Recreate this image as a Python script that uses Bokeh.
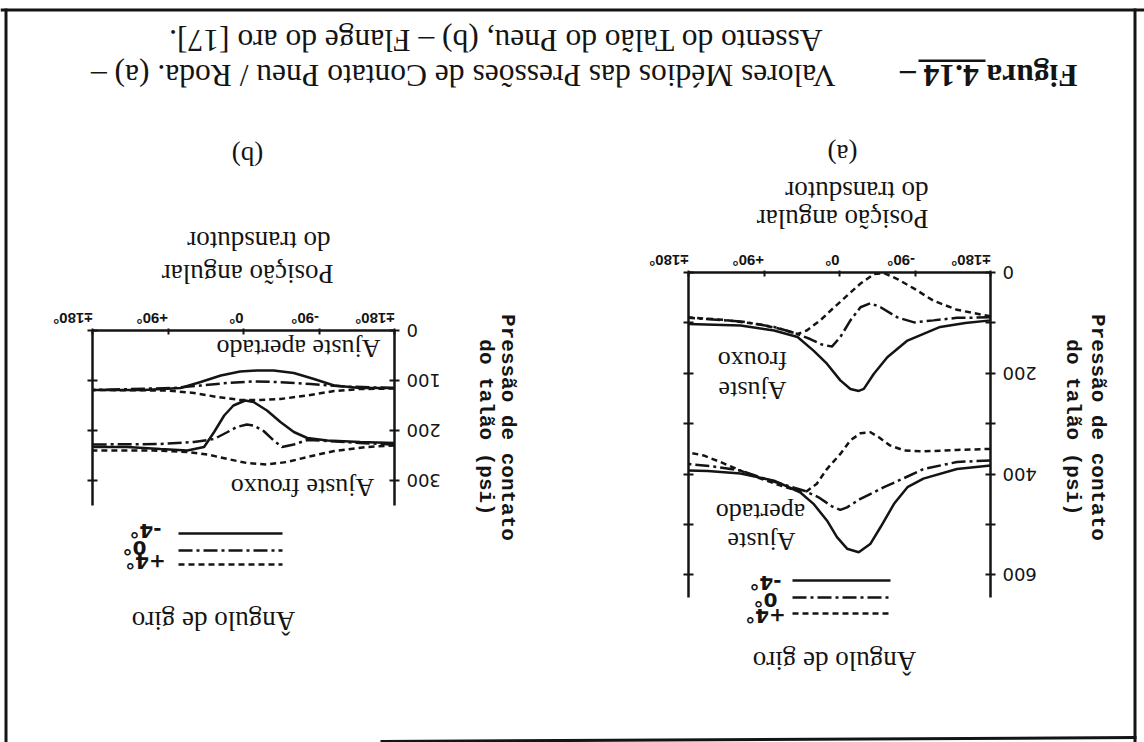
import math

from bokeh.embed import file_html
from bokeh.models import BoxAnnotation, FixedTicker, Label, LinearAxis, Range1d
from bokeh.plotting import figure
from bokeh.resources import INLINE

INK = "#141414"
SERIF = "Liberation Serif"
XTICK_FONT = "Liberation Sans"
SANS = "DejaVu Sans"
AXIS_TITLE_FONT = "Liberation Mono"
UPSIDE_DOWN = math.pi

# ---------------------------------------------------------------- ticks
X_TICKS = [-180, -90, 0, 90, 180]
X_TICK_LABELS = ["±180°", "-90°", "0°", "+90°", "±180°"]
A_Y_TICKS = [0, 100, 200, 300, 400, 500, 600]
A_Y_TICK_LABELS = ["0", "", "200", "", "400", "", "600"]
B_Y_TICKS = [0, 100, 200, 300]
B_Y_TICK_LABELS = ["0", "100", "200", "300"]

# ------------------------------------------------ steering angle series
STEER_LABELS = ["-4°", "0°", "+4°"]
STEER_DASH = ["solid", "14 4 3 4", "6 4"]

# (a) wheel seat, loose fit
A_LOOSE_M4_DEG = [-180, -150, -120, -81, -57, -41, -29, -23, -13, -1, 15, 31, 50, 78, 118, 180]
A_LOOSE_M4_PSI = [95, 100, 108, 135, 168, 201, 231, 235, 231, 214, 181, 155, 128, 115, 105, 102]
A_LOOSE_0_DEG = [-180, -140, -112, -89, -69, -49, -37, -25, -13, -1, 9, 21, 35, 50, 78, 118, 180]
A_LOOSE_0_PSI = [89, 90, 95, 99, 89, 69, 61, 69, 95, 128, 147, 143, 132, 122, 108, 97, 90]
A_LOOSE_P4_DEG = [-180, -140, -112, -89, -69, -53, -41, -25, -9, 7, 23, 39, 50, 70, 98, 138, 180]
A_LOOSE_P4_PSI = [87, 74, 56, 32, 13, 1, 3, 22, 46, 70, 95, 115, 122, 112, 102, 94, 89]

# (a) wheel seat, tight fit
A_TIGHT_M4_DEG = [-180, -140, -100, -81, -65, -49, -37, -23, -9, 3, 15, 31, 47, 78, 118, 157, 180]
A_TIGHT_M4_PSI = [383, 390, 409, 426, 459, 505, 538, 555, 548, 525, 492, 459, 436, 413, 399, 394, 393]
A_TIGHT_0_DEG = [-180, -140, -100, -73, -53, -41, -25, -9, -1, 9, 25, 42, 62, 86, 118, 150, 180]
A_TIGHT_0_PSI = [373, 376, 390, 411, 426, 436, 449, 466, 471, 464, 446, 433, 423, 411, 393, 385, 380]
A_TIGHT_P4_DEG = [-180, -140, -100, -77, -60, -47, -37, -25, -13, -1, 15, 27, 39, 50, 70, 94, 118, 142, 162, 180]
A_TIGHT_P4_PSI = [350, 352, 355, 353, 343, 327, 317, 319, 333, 360, 390, 419, 434, 433, 423, 409, 393, 376, 363, 357]

# (b) rim flange, tight fit
B_TIGHT_M4_DEG = [-180, -139, -108, -84, -60, -36, -16, 4, 27, 51, 75, 119, 180]
B_TIGHT_M4_PSI = [115, 115, 110, 97, 85, 80, 80, 82, 90, 103, 115, 119, 119]
B_TIGHT_0_DEG = [-180, -120, -80, -40, -12, 19, 51, 83, 180]
B_TIGHT_0_PSI = [115, 112, 107, 103, 102, 105, 110, 115, 119]
B_TIGHT_P4_DEG = [-180, -139, -108, -76, -44, -20, 4, 31, 59, 91, 180]
B_TIGHT_P4_PSI = [116, 117, 121, 130, 137, 139, 139, 133, 125, 120, 119]

# (b) rim flange, loose fit
B_LOOSE_M4_DEG = [-180, -139, -100, -76, -60, -44, -28, -12, -2, 12, 23, 35, 47, 67, 99, 139, 180]
B_LOOSE_M4_PSI = [225, 223, 220, 215, 203, 183, 160, 143, 140, 150, 170, 203, 233, 240, 237, 233, 233]
B_LOOSE_0_DEG = [-180, -139, -100, -76, -60, -46, -36, -24, -12, -4, 8, 19, 35, 59, 99, 180]
B_LOOSE_0_PSI = [228, 225, 221, 219, 228, 233, 220, 201, 190, 188, 193, 203, 217, 223, 227, 228]
B_LOOSE_P4_DEG = [-180, -147, -108, -76, -52, -28, -4, 19, 43, 67, 107, 180]
B_LOOSE_P4_PSI = [230, 233, 241, 253, 263, 268, 265, 257, 248, 243, 240, 240]

# ---------------------------------------------------------------- sheet
# The default ranges are sheet pixels (y grows downward); each chart gets
# its own named degree / psi ranges, so the whole printed sheet -- shown
# upside down -- lives in one canvas.
PAGE_W, PAGE_H = 1144, 742
FRAME_W = 302

p = figure(width=PAGE_W, height=PAGE_H,
           x_range=Range1d(0, PAGE_W), y_range=Range1d(PAGE_H, 0),
           x_axis_location=None, y_axis_location=None, min_border=0,
           output_backend="svg", toolbar_location=None)
p.outline_line_color = None
p.grid.visible = False
p.background_fill_color = "white"
p.border_fill_color = "white"


def add_chart(name, frame_left, frame_top, px_per_psi, y_ticks, y_tick_labels, y_axis_max):
    def to_deg(px):
        return 180 - (px - frame_left) * 360 / FRAME_W

    def to_psi(py):
        return (py - frame_top) / px_per_psi

    xr, yr = f"deg_{name}", f"psi_{name}"
    p.extra_x_ranges[xr] = Range1d(to_deg(0), to_deg(PAGE_W))
    p.extra_y_ranges[yr] = Range1d(to_psi(PAGE_H), to_psi(0))

    # angular position axis along the top edge
    xa = LinearAxis(x_range_name=xr, y_range_name=yr, fixed_location=0,
                    ticker=FixedTicker(ticks=X_TICKS), bounds=(-180, 180),
                    major_label_overrides=dict(zip(X_TICKS, X_TICK_LABELS)),
                    major_label_orientation=UPSIDE_DOWN,
                    major_label_text_font=XTICK_FONT,
                    major_label_text_font_style="bold",
                    major_label_text_font_size="15px",
                    major_label_standoff=10, major_tick_in=4, major_tick_out=2)
    p.add_layout(xa, "above")

    # pressure axis (printed edge with the numbers)
    ya = LinearAxis(x_range_name=xr, y_range_name=yr, fixed_location=-180,
                    ticker=FixedTicker(ticks=y_ticks), bounds=(0, y_axis_max),
                    major_label_overrides=dict(zip(y_ticks, y_tick_labels)),
                    major_label_orientation=UPSIDE_DOWN,
                    major_label_text_font=SANS,
                    major_label_text_font_size="18px",
                    major_label_standoff=-17, major_tick_in=5, major_tick_out=5)
    p.add_layout(ya, "left")

    # opposite edge: ticks only
    la = LinearAxis(x_range_name=xr, y_range_name=yr, fixed_location=180,
                    ticker=FixedTicker(ticks=y_ticks), bounds=(0, y_axis_max),
                    major_label_overrides={t: "" for t in y_ticks},
                    major_tick_in=5, major_tick_out=5)
    p.add_layout(la, "right")

    for ax in (xa, ya, la):
        ax.axis_line_color = INK
        ax.axis_line_width = 2.5
        ax.major_tick_line_color = INK
        ax.major_tick_line_width = 2
        ax.minor_tick_line_color = None
        ax.major_label_text_color = INK
    return xr, yr


def text(xy, s, size, font=SERIF, style="normal", align="center", angle=UPSIDE_DOWN):
    p.add_layout(Label(x=xy[0], y=xy[1], text=s, angle=angle,
                       text_align=align, text_baseline="middle",
                       text_font=font, text_font_size=f"{size}px",
                       text_font_style=style, text_color=INK))


def rule(left, top, right, bottom):
    p.add_layout(BoxAnnotation(left=left, right=right, top=top, bottom=bottom,
                               fill_color=INK, fill_alpha=1, line_color=None))


def legend(x0, x1, ys, label_x, label_dy):
    for lab, dash, y, lx in zip(STEER_LABELS, STEER_DASH, ys, label_x):
        p.line([x0, x1], [y, y], line_color=INK, line_width=2.5, line_dash=dash)
        text((lx, y + label_dy), lab, 20, font=SANS, style="bold")


# ---------------------------------------------------------------- frame
rule(0, 8, PAGE_W, 11)
rule(4, 8, 7, PAGE_H)
rule(1133, 8, 1136, PAGE_H)
p.line([380, 1136], [741, 737], line_color=INK, line_width=3)

# ---------------------------------------------------------------- caption
text((1077, 75), "Figura 4.14 –", 31.5, style="bold", align="left")
rule(918, 59, 985, 61.5)
text((835, 75), "Valores Médios das Pressões de Contato Pneu / Roda. (a) –", 31.5, align="left")
text((822, 40), "Assento do Talão do Pneu, (b) – Flange do aro [17].", 31.5, align="left")

# ---------------------------------------------------------------- (b) flange
xr, yr = add_chart("b", 92, 330, 0.5, B_Y_TICKS, B_Y_TICK_LABELS, 350)
for d, y, dash in [(B_TIGHT_M4_DEG, B_TIGHT_M4_PSI, STEER_DASH[0]),
                   (B_TIGHT_0_DEG, B_TIGHT_0_PSI, STEER_DASH[1]),
                   (B_TIGHT_P4_DEG, B_TIGHT_P4_PSI, STEER_DASH[2]),
                   (B_LOOSE_M4_DEG, B_LOOSE_M4_PSI, STEER_DASH[0]),
                   (B_LOOSE_0_DEG, B_LOOSE_0_PSI, STEER_DASH[1]),
                   (B_LOOSE_P4_DEG, B_LOOSE_P4_PSI, STEER_DASH[2])]:
    p.line(d, y, x_range_name=xr, y_range_name=yr, line_color=INK, line_width=2.5, line_dash=dash)

text((247, 155), "(b)", 27)
text((330, 240), "do transdutor", 27, align="left")
text((333, 273), "Posição angular", 27, align="left")
text((298, 348), "Ajuste apertado", 26)
text((302, 487), "Ajuste frouxo", 26)
text((507, 427), "Pressão de contato", 21, font=AXIS_TITLE_FONT, style="bold", angle=-math.pi / 2)
text((485, 427), "do talão (psi)", 21, font=AXIS_TITLE_FONT, style="bold", angle=-math.pi / 2)
legend(178, 282, [533, 550, 564], [145, 134, 145], -3)
text((213, 620), "Ângulo de giro", 27)

# ---------------------------------------------------------------- (a) wheel seat
xr, yr = add_chart("a", 688, 272, 0.504, A_Y_TICKS, A_Y_TICK_LABELS, 645)
for d, y, dash in [(A_LOOSE_M4_DEG, A_LOOSE_M4_PSI, STEER_DASH[0]),
                   (A_LOOSE_0_DEG, A_LOOSE_0_PSI, STEER_DASH[1]),
                   (A_LOOSE_P4_DEG, A_LOOSE_P4_PSI, STEER_DASH[2]),
                   (A_TIGHT_M4_DEG, A_TIGHT_M4_PSI, STEER_DASH[0]),
                   (A_TIGHT_0_DEG, A_TIGHT_0_PSI, STEER_DASH[1]),
                   (A_TIGHT_P4_DEG, A_TIGHT_P4_PSI, STEER_DASH[2])]:
    p.line(d, y, x_range_name=xr, y_range_name=yr, line_color=INK, line_width=2.5, line_dash=dash)

text((842, 153), "(a)", 27)
text((928, 190), "do transdutor", 27, align="left")
text((928, 218), "Posição angular", 27, align="left")
text((752, 360), "frouxo", 26)
text((752, 390), "Ajuste", 26)
text((760, 512), "apertado", 26)
text((761, 541), "Ajuste", 26)
text((1097, 427), "Pressão de contato", 21, font=AXIS_TITLE_FONT, style="bold", angle=-math.pi / 2)
text((1072, 427), "do talão (psi)", 21, font=AXIS_TITLE_FONT, style="bold", angle=-math.pi / 2)
legend(792, 890, [580, 597, 613], [765, 765, 765], 2)
text((834, 660), "Ângulo de giro", 27)

open("out.html", "w").write(file_html(p, INLINE))
